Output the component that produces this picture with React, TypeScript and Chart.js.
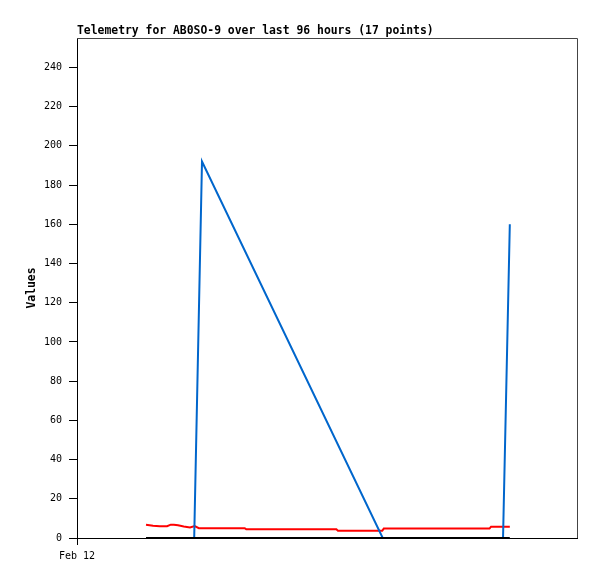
import { useEffect, useRef } from "react";
import { Chart, registerables } from "chart.js";

Chart.register(...registerables);

// Hours since Feb 12 00:00 (x axis spans 96 hours)
const redHours = [13.25, 14.6, 15.9, 17.3, 18.0, 18.6, 19.4, 20.5, 21.7, 22.6, 23.4, 32.2, 32.5, 49.8, 50.1, 58.6, 58.9, 79.2, 79.5, 83.1];
const redValues = [6.8, 6.3, 6.0, 6.0, 6.8, 6.8, 6.5, 5.9, 5.4, 6.1, 5.0, 5.0, 4.4, 4.4, 3.7, 3.7, 4.8, 4.8, 5.8, 5.8];

const blueHours = [22.5, 24.0, 58.7, 81.8, 83.1];
const blueValues = [0, 192, 0, 0, 160];

const blackHours = [13.25, 83.1];
const blackValues = [0, 0];

const yTicks = [0, 20, 40, 60, 80, 100, 120, 140, 160, 180, 200, 220, 240];
const xTickHours = [0];
const xTickLabels = ["Feb 12"];

const titleText = "Telemetry for AB0SO-9 over last 96 hours (17 points)";
const yTitle = "Values";

const toPoints = (xs: number[], ys: number[]) => xs.map((x, i) => ({ x, y: ys[i] }));

const framePlugin = {
  id: "frame",
  afterDraw(chart: any) {
    const { ctx, chartArea } = chart;
    const { left, top, right, bottom } = chartArea;
    ctx.save();
    ctx.strokeStyle = "#444";
    ctx.lineWidth = 1;
    ctx.beginPath();
    ctx.moveTo(left, top + 0.5);
    ctx.lineTo(right + 0.5, top + 0.5);
    ctx.lineTo(right + 0.5, bottom);
    ctx.stroke();
    ctx.restore();
  },
};

export default function App() {
  const ref = useRef<HTMLCanvasElement | null>(null);

  useEffect(() => {
    if (!ref.current) return;
    const mono = "'DejaVu Sans Mono', monospace";
    const chart = new Chart(ref.current, {
      type: "line",
      data: {
        datasets: [
          {
            label: "black",
            data: toPoints(blackHours, blackValues),
            borderColor: "#000000",
            borderWidth: 2,
            pointRadius: 0,
            order: 0,
          },
          {
            label: "blue",
            data: toPoints(blueHours, blueValues),
            borderColor: "#0066cc",
            borderWidth: 2,
            pointRadius: 0,
            order: 1,
          },
          {
            label: "red",
            data: toPoints(redHours, redValues),
            borderColor: "#ff0000",
            borderWidth: 2,
            pointRadius: 0,
            order: 2,
          },
        ],
      },
      options: {
        responsive: false,
        animation: false,
        events: [],
        layout: { padding: { left: 0, right: 20, top: 0, bottom: 0 } },
        plugins: {
          legend: { display: false },
          tooltip: { enabled: false },
          title: {
            display: true,
            text: titleText,
            align: "start",
            fullSize: false,
            color: "#000",
            font: { family: mono, size: 11.4, weight: "bold", lineHeight: 1 },
            padding: { top: 25.5, bottom: 1.1 },
          },
        },
        scales: {
          x: {
            type: "linear",
            min: 0,
            max: 96,
            afterFit: (s: any) => {
              s.height = 41;
            },
            afterBuildTicks: (s: any) => {
              s.ticks = xTickHours.map((v) => ({ value: v }));
            },
            ticks: {
              autoSkip: false,
              maxRotation: 0,
              color: "#000",
              padding: 5,
              font: { family: mono, size: 10 },
              callback: (v: any) => {
                const i = xTickHours.indexOf(Number(v));
                return i >= 0 ? xTickLabels[i] : "";
              },
            },
            grid: {
              drawOnChartArea: false,
              color: "#000",
              tickLength: 7,
            },
            border: { color: "#000", width: 1 },
          },
          y: {
            type: "linear",
            min: 0,
            max: 255,
            afterFit: (s: any) => {
              s.width = 77;
            },
            afterBuildTicks: (s: any) => {
              s.ticks = yTicks.map((v) => ({ value: v }));
            },
            ticks: {
              color: "#000",
              padding: 7,
              font: { family: mono, size: 10 },
            },
            grid: {
              drawOnChartArea: false,
              color: "#000",
              tickLength: 8,
            },
            border: { color: "#000", width: 1 },
            title: {
              display: true,
              text: yTitle,
              color: "#000",
              font: { family: mono, size: 11.4, weight: "bold", lineHeight: 1.2 },
              padding: { top: 25, bottom: 0 },
            },
          },
        },
      },
      plugins: [framePlugin],
    });
    return () => chart.destroy();
  }, []);

  return (
    <div style={{ position: "fixed", left: 0, top: 0, width: 597, height: 579, background: "#fff" }}>
      <canvas ref={ref} width={597} height={579} />
    </div>
  );
}
